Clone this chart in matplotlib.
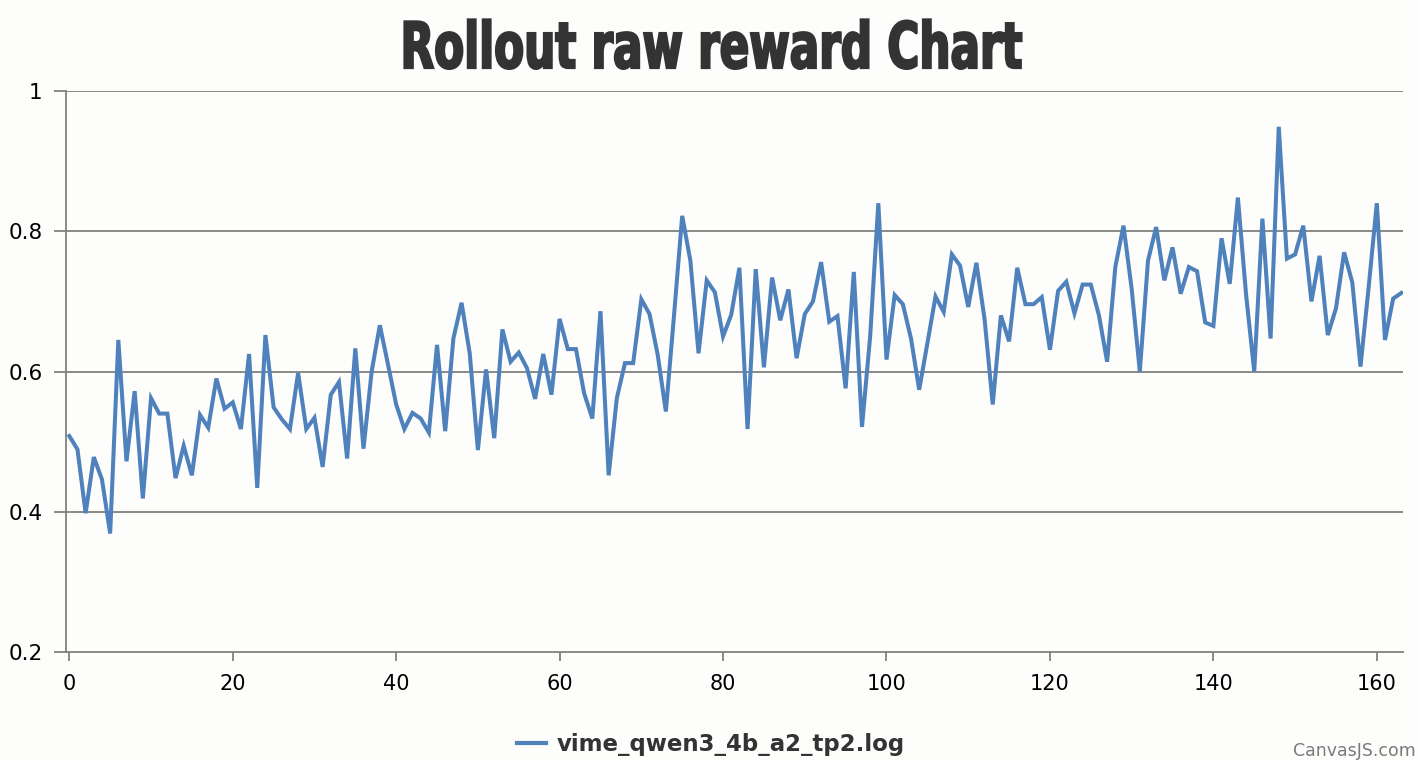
import os
import matplotlib
matplotlib.use("Agg")
import matplotlib.pyplot as plt
from matplotlib import font_manager
from matplotlib.lines import Line2D
from matplotlib.patheffects import AbstractPathEffect
from matplotlib.transforms import Affine2D


reward = [
    0.508, 0.489, 0.398, 0.478, 0.446, 0.369, 0.645, 0.472, 0.572, 0.419,
    0.562, 0.540, 0.540, 0.448, 0.494, 0.452, 0.538, 0.520, 0.590, 0.547,
    0.556, 0.518, 0.625, 0.434, 0.652, 0.549, 0.532, 0.518, 0.598, 0.518,
    0.534, 0.464, 0.567, 0.585, 0.476, 0.633, 0.490, 0.600, 0.666, 0.610,
    0.553, 0.518, 0.541, 0.533, 0.513, 0.638, 0.515, 0.647, 0.698, 0.626,
    0.488, 0.603, 0.505, 0.660, 0.614, 0.627, 0.605, 0.561, 0.625, 0.567,
    0.675, 0.632, 0.632, 0.569, 0.533, 0.686, 0.452, 0.562, 0.612, 0.612,
    0.703, 0.682, 0.624, 0.543, 0.680, 0.822, 0.758, 0.626, 0.730, 0.713,
    0.650, 0.681, 0.748, 0.518, 0.746, 0.606, 0.734, 0.673, 0.717, 0.619,
    0.682, 0.700, 0.756, 0.671, 0.679, 0.576, 0.742, 0.521, 0.650, 0.840,
    0.617, 0.709, 0.696, 0.647, 0.574, 0.640, 0.707, 0.685, 0.767, 0.751,
    0.692, 0.755, 0.675, 0.553, 0.680, 0.643, 0.748, 0.696, 0.696, 0.706,
    0.631, 0.715, 0.728, 0.683, 0.724, 0.724, 0.680, 0.614, 0.749, 0.808,
    0.718, 0.600, 0.758, 0.806, 0.730, 0.777, 0.711, 0.749, 0.743, 0.670,
    0.665, 0.790, 0.725, 0.848, 0.710, 0.600, 0.818, 0.647, 0.949, 0.761,
    0.767, 0.808, 0.700, 0.765, 0.652, 0.690, 0.770, 0.727, 0.607, 0.720,
    0.840, 0.645, 0.704, 0.712,
]
steps = list(range(len(reward)))

x_ticks = [0, 20, 40, 60, 80, 100, 120, 140, 160]
y_ticks = [0.2, 0.4, 0.6, 0.8, 1.0]
y_tick_labels = ["0.2", "0.4", "0.6", "0.8", "1"]

series_name = "vime_qwen3_4b_a2_tp2.log"
title = "Rollout raw reward Chart"

bg = "#fdfdfb"
line_color = "#4f81bc"
axis_color = "#808080"


# look for a narrow bold face for the Impact-like title
def find_title_font():
    wanted = ["LiberationSansNarrow-Bold", "DejaVuSansCondensed-Bold",
              "OpenSans_Condensed-Bold", "OpenSansCondensed-Bold"]
    files = {os.path.splitext(os.path.basename(f.fname))[0]: f.fname
             for f in font_manager.fontManager.ttflist}
    for w in wanted:
        if w in files:
            return font_manager.FontProperties(fname=files[w])
    return font_manager.FontProperties(family="DejaVu Sans", weight="bold")


class Squeeze(AbstractPathEffect):
    # scales the glyphs about the text anchor and thickens them a bit
    def __init__(self, sx, sy, x0, y0, thicken):
        super().__init__()
        self.sx, self.sy, self.x0, self.y0 = sx, sy, x0, y0
        self.thicken = thicken

    def draw_path(self, renderer, gc, tpath, affine, rgbFace=None):
        t = affine + Affine2D().translate(-self.x0, -self.y0) \
            .scale(self.sx, self.sy).translate(self.x0, self.y0)
        gc0 = renderer.new_gc()
        gc0.copy_properties(gc)
        gc0.set_linewidth(self.thicken)
        gc0.set_foreground(rgbFace)
        gc0.set_joinstyle("miter")
        renderer.draw_path(gc0, tpath, t, rgbFace)
        gc0.restore()


fig = plt.figure(figsize=(14.19, 7.61), dpi=100, facecolor=bg)
ax = fig.add_axes([0.0463, 0.1432, 0.9424, 0.7372], facecolor=bg)

ax.plot(steps, reward, color=line_color, lw=2.9, solid_joinstyle="miter", zorder=3)

ax.set_xlim(-0.44, 163.2)
ax.set_ylim(0.2, 1.0)

for y in y_ticks[1:]:
    ax.axhline(y, color=axis_color, lw=1.3, zorder=1)

ax.set_xticks(x_ticks)
ax.set_yticks(y_ticks)
ax.set_yticklabels(y_tick_labels)

for s in ["top", "right"]:
    ax.spines[s].set_visible(False)
for s in ["left", "bottom"]:
    ax.spines[s].set_color(axis_color)
    ax.spines[s].set_linewidth(1.3)

ax.tick_params(axis="x", length=6.5, width=1.3, color=axis_color,
               labelsize=15, pad=9, labelcolor="black")
ax.tick_params(axis="y", length=8.6, width=1.3, color=axis_color,
               labelsize=15.5, pad=8, labelcolor="black")

# title: cap height ~48 px, width ~627 px in the reference
tfont = find_title_font()
tfont.set_size(46)
tx, ty = 711.5, 761 - 68
ttl = fig.text(tx / 1419, ty / 761, title, ha="center", va="baseline",
               fontproperties=tfont, color="#333333")
fig.canvas.draw()
tb = ttl.get_window_extent()
sx = 622 / tb.width
ttl.set_path_effects([Squeeze(sx, 1.0, tx, ty, 1.6)])

handle = Line2D([], [], color=line_color, lw=3)
fig.legend([handle], [series_name], loc="center",
           bbox_to_anchor=(711 / 1419, 1 - 745 / 761), frameon=False,
           prop={"size": 16.5, "weight": "bold"}, labelcolor="#333333",
           handlelength=1.27, handletextpad=0.44)

fig.text(0.998, 1 - 756 / 761, "CanvasJS.com", ha="right", va="baseline",
         fontsize=12.5, color="#7a7a7a")

fig.savefig("out.png", dpi=100, facecolor=bg)
